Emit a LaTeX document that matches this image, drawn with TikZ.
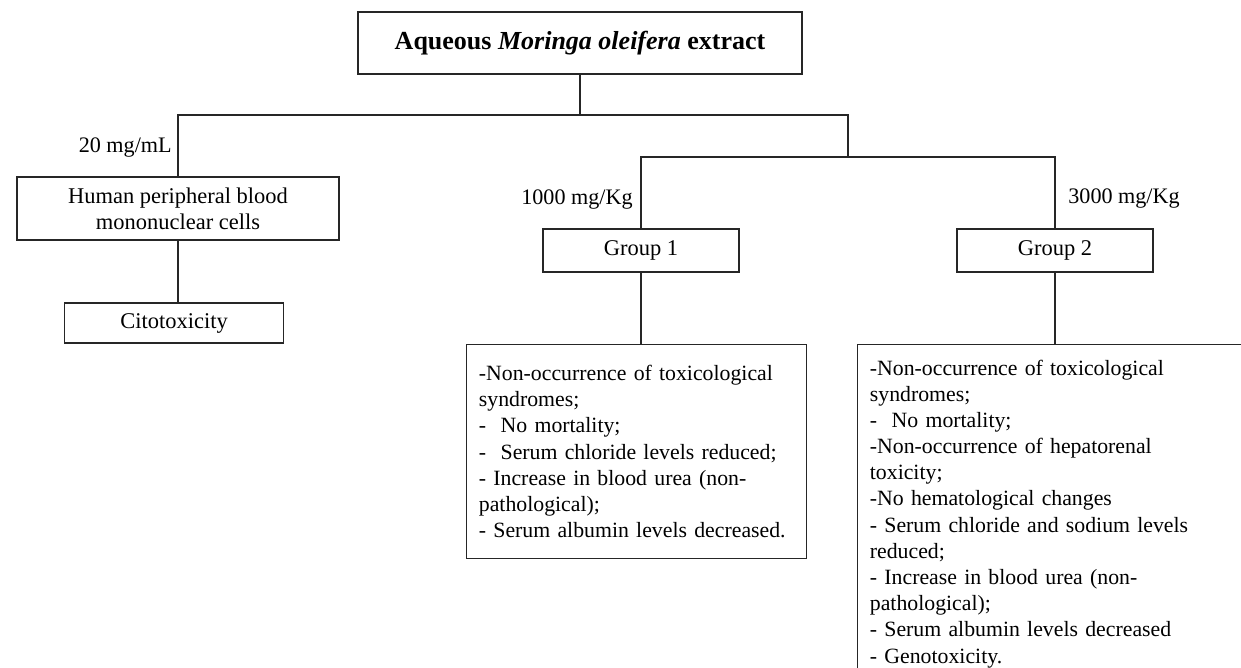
\documentclass[tikz,border=0pt]{standalone}
\usepackage{fontspec}
\setmainfont{Liberation Serif}
\usetikzlibrary{positioning}

\begin{document}
\begin{tikzpicture}[x=0.02cm, y=-0.02cm,
    box/.style={rectangle, draw=black!85, line width=0.7pt, align=center, font=\fontsize{12.8}{15}\selectfont},
    headbox/.style={box, font=\fontsize{14.8}{17}\selectfont\bfseries, minimum width=8.88cm, minimum height=1.24cm},
    grpbox/.style={box, minimum width=3.92cm, minimum height=0.86cm},
    listbox/.style={rectangle, draw=black!85, line width=0.7pt, align=left, anchor=north west, inner xsep=7pt, font=\fontsize{12.4}{14.9}\selectfont},
    doselbl/.style={font=\fontsize{12.6}{15}\selectfont, inner sep=0pt},
    link/.style={draw=black!85, line width=0.7pt}
]
\useasboundingbox (0,0) rectangle (1241,668);

% Main node
\node[headbox] (extract) at (580,43) {Aqueous \textit{Moringa oleifera} extract};
\coordinate (split) at (580,115);
\coordinate (fork) at (848,157);

% In vitro branch
\node[box, minimum width=6.44cm, minimum height=1.26cm] (pbmc) at (178,208.5) {Human peripheral blood\\mononuclear cells};
\node[box, minimum width=4.38cm, minimum height=0.8cm] (cito) at (174,323) {Citotoxicity};
\node[doselbl, anchor=base east] (dose20) at (172,153) {20 mg/mL};

% In vivo branch
\node[grpbox] (grp1) at (641,250.5) {Group 1};
\node[grpbox] (grp2) at (1055,250.5) {Group 2};
\node[doselbl, anchor=base east] (dose1000) at (633,205) {1000 mg/Kg};
\node[doselbl, anchor=base west] (dose3000) at (1068,204) {3000 mg/Kg};

% Results
\node[listbox, text width=6.31cm, minimum height=4.28cm] (res1) at (466,344) {-Non-occurrence of toxicological\\syndromes;\\-~~No mortality;\\-~~Serum chloride levels reduced;\\- Increase in blood urea (non-\\pathological);\\- Serum albumin levels decreased.};
\node[listbox, text width=10cm, inner ysep=8.6pt] (res2) at (857,344) {-Non-occurrence of toxicological\\syndromes;\\-~~No mortality;\\-Non-occurrence of hepatorenal\\toxicity;\\-No hematological changes\\- Serum chloride and sodium levels\\reduced;\\- Increase in blood urea (non-\\pathological);\\- Serum albumin levels decreased\\- Genotoxicity.};

% Connectors
\draw[link] (extract.south -| split) -- (split);
\draw[link] (split) -| (pbmc);
\draw[link] (split) -| (fork);
\draw[link] (fork) -| (grp1);
\draw[link] (fork) -| (grp2);
\draw[link] (pbmc.south) -- (pbmc.south |- cito.north);
\draw[link] (grp1.south) -- (grp1.south |- res1.north);
\draw[link] (grp2.south) -- (grp2.south |- res2.north);

\end{tikzpicture}
\end{document}
